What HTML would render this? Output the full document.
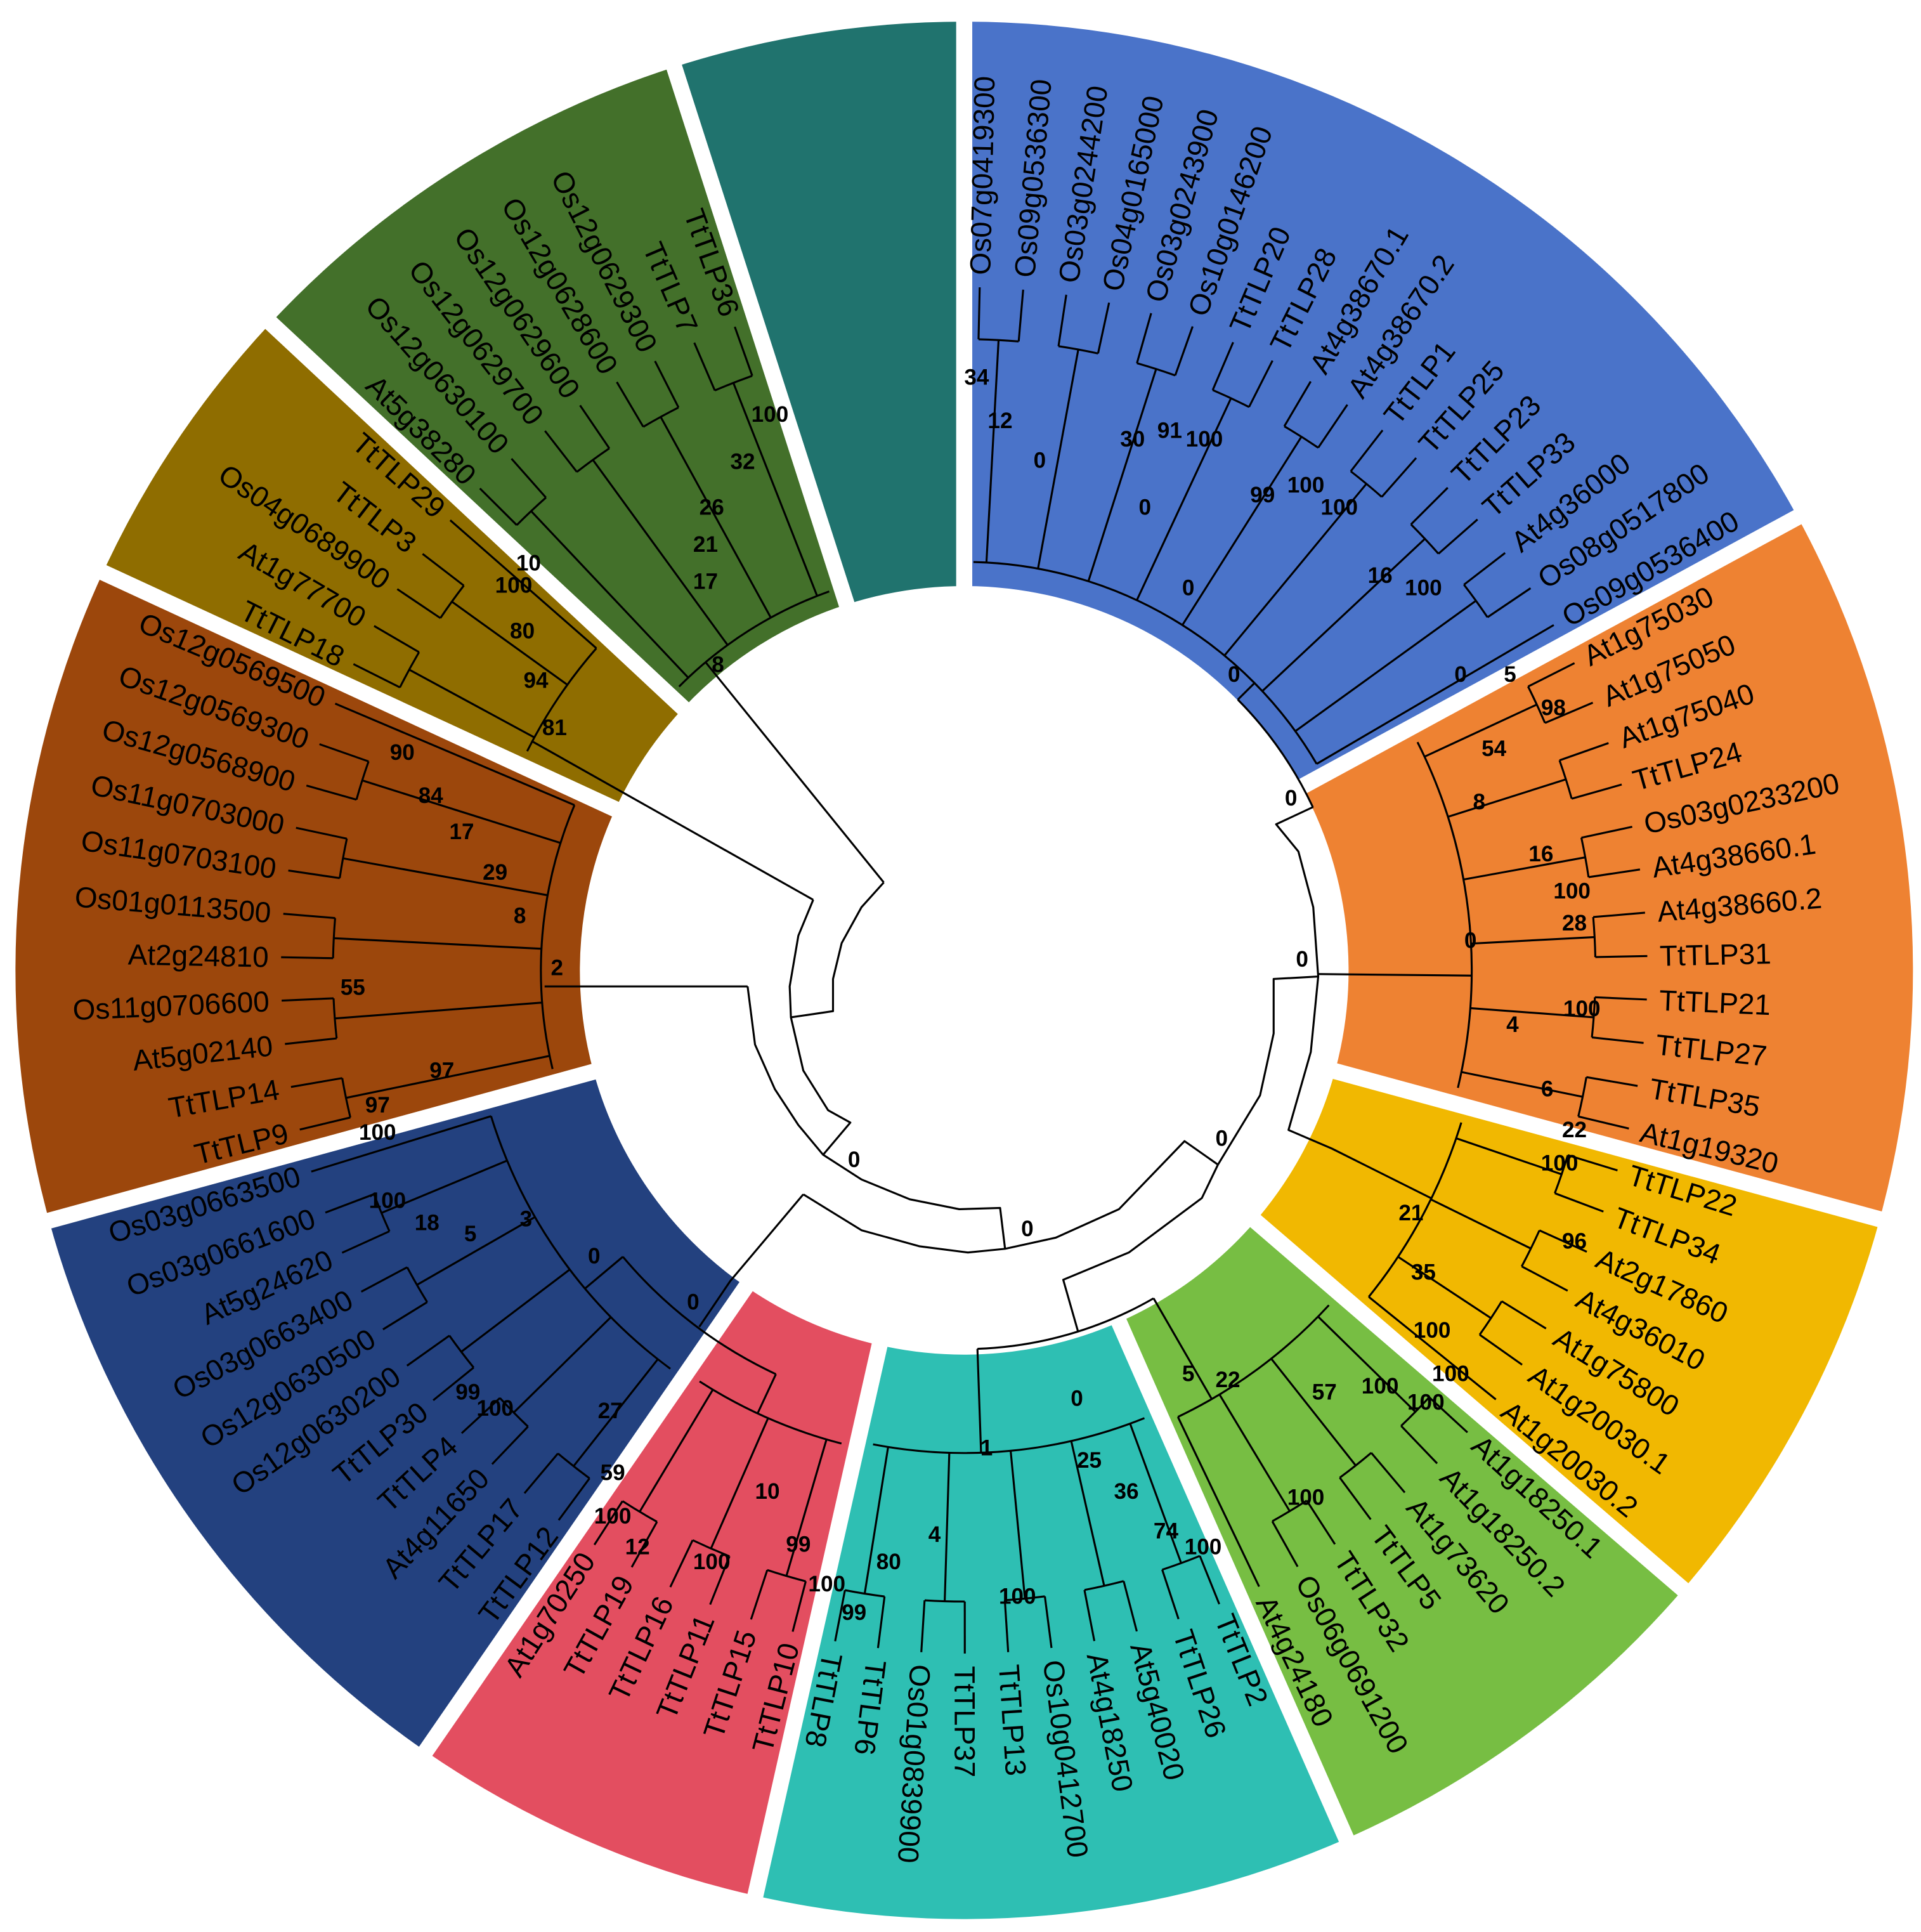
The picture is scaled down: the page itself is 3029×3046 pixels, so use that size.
<!DOCTYPE html>
<html><head><meta charset="utf-8"><style>
html,body{margin:0;padding:0;background:#fff}
svg{display:block}
.l{stroke:#000;stroke-width:1.6;fill:none}
.lb{font-family:"Liberation Sans",Arial,sans-serif;font-size:23.5px;fill:#000;dominant-baseline:central}
.le{text-anchor:end}
.n{font-family:"Liberation Sans",Arial,sans-serif;font-size:18px;font-weight:bold;fill:#000;text-anchor:middle;dominant-baseline:central}
</style></head><body>
<svg xmlns="http://www.w3.org/2000/svg" width="3029" height="3046" viewBox="0 0 1552 1561" preserveAspectRatio="none">
<rect width="1552" height="1561" fill="#fff"/>
<g transform="translate(779 784)">
<g fill="none" stroke-width="456">
<circle r="538.5" stroke="#4A73C9" stroke-dasharray="577.6 4000" transform="rotate(-90)"/>
<circle r="538.5" stroke="#EE8232" stroke-dasharray="411.2 4000" transform="rotate(-28.54)"/>
<circle r="538.5" stroke="#F1B801" stroke-dasharray="239.9 4000" transform="rotate(15.21)"/>
<circle r="538.5" stroke="#77BE43" stroke-dasharray="239.9 4000" transform="rotate(40.73)"/>
<circle r="538.5" stroke="#2EBFB3" stroke-dasharray="342.8 4000" transform="rotate(66.25)"/>
<circle r="538.5" stroke="#E34E60" stroke-dasharray="205.5 4000" transform="rotate(102.72)"/>
<circle r="538.5" stroke="#23417F" stroke-dasharray="377.0 4000" transform="rotate(124.59)"/>
<circle r="538.5" stroke="#9C470C" stroke-dasharray="376.9 4000" transform="rotate(164.70)"/>
<circle r="538.5" stroke="#8F6D00" stroke-dasharray="171.3 4000" transform="rotate(204.80)"/>
<circle r="538.5" stroke="#43702A" stroke-dasharray="274.2 4000" transform="rotate(223.03)"/>
<circle r="538.5" stroke="#20736E" stroke-dasharray="167.3 4000" transform="rotate(252.2)"/>
</g>
<g stroke="#fff" stroke-width="13">
<line x1="290" x2="800" transform="rotate(-90)"/>
<line x1="290" x2="800" transform="rotate(-28.54)"/>
<line x1="290" x2="800" transform="rotate(15.21)"/>
<line x1="290" x2="800" transform="rotate(40.73)"/>
<line x1="290" x2="800" transform="rotate(66.25)"/>
<line x1="290" x2="800" transform="rotate(102.72)"/>
<line x1="290" x2="800" transform="rotate(124.59)"/>
<line x1="290" x2="800" transform="rotate(164.70)"/>
<line x1="290" x2="800" transform="rotate(204.80)"/>
<line x1="290" x2="800" transform="rotate(223.03)"/>
<line x1="290" x2="800" transform="rotate(252.2)"/>
</g>
<g class="l">
<circle r="330" stroke-dasharray="336.0 4000" transform="rotate(-88.7)"/>
<circle r="311" stroke-dasharray="106.4 4000" transform="rotate(-44.7)"/>
<line x1="311" x2="330" transform="rotate(-44.7)"/>
<circle r="410" stroke-dasharray="287.0 4000" transform="rotate(-26.72)"/>
<line x1="286" x2="410" transform="rotate(0.6)"/>
<circle r="420" stroke-dasharray="160.4 4000" transform="rotate(17.03)"/>
<circle r="306" stroke-dasharray="149.5 4000" transform="rotate(60)"/>
<line x1="306" x2="400" transform="rotate(60)"/>
<line x1="306" x2="390" transform="rotate(88)"/>
<circle r="400" stroke-dasharray="152.7 4000" transform="rotate(42.56)"/>
<circle r="390" stroke-dasharray="223.3 4000" transform="rotate(68.08)"/>
<circle r="360" stroke-dasharray="157.1 4000" transform="rotate(115)"/>
<line x1="360" x2="395" transform="rotate(115)"/>
<line x1="360" x2="400" transform="rotate(140)"/>
<circle r="395" stroke-dasharray="125.7 4000" transform="rotate(104.54)"/>
<circle r="400" stroke-dasharray="254.6 4000" transform="rotate(126.41)"/>
<circle r="342" stroke-dasharray="217.6 4000" transform="rotate(166.52)"/>
<circle r="395" stroke-dasharray="100.5 4000" transform="rotate(206.63)"/>
<circle r="325" stroke-dasharray="144.8 4000" transform="rotate(224.86)"/>
</g>
<g class="l" stroke-dasharray="32.45 4000">
<circle r="510" transform="rotate(-88.7)"/><circle r="510" transform="rotate(-81.41)"/><circle r="510" transform="rotate(-74.12)"/><circle r="510" transform="rotate(-66.82)"/><circle r="510" transform="rotate(-59.53)"/><circle r="510" transform="rotate(-52.24)"/><circle r="510" transform="rotate(-44.95)"/><circle r="510" transform="rotate(-37.66)"/>
<circle r="510" transform="rotate(-26.72)"/><circle r="510" transform="rotate(-19.43)"/><circle r="510" transform="rotate(-12.13)"/><circle r="510" transform="rotate(-4.84)"/><circle r="510" transform="rotate(2.45)"/><circle r="510" transform="rotate(9.74)"/>
<circle r="510" transform="rotate(17.03)"/><circle r="510" transform="rotate(24.33)"/><circle r="510" transform="rotate(31.62)"/>
<circle r="510" transform="rotate(42.56)"/><circle r="510" transform="rotate(49.85)"/><circle r="510" transform="rotate(57.14)"/>
<circle r="510" transform="rotate(68.08)"/><circle r="510" transform="rotate(75.37)"/><circle r="510" transform="rotate(82.66)"/><circle r="510" transform="rotate(89.95)"/><circle r="510" transform="rotate(97.25)"/>
<circle r="510" transform="rotate(104.54)"/><circle r="510" transform="rotate(111.83)"/><circle r="510" transform="rotate(119.12)"/>
<circle r="510" transform="rotate(126.41)"/><circle r="510" transform="rotate(133.71)"/><circle r="510" transform="rotate(141.00)"/><circle r="510" transform="rotate(148.29)"/><circle r="510" transform="rotate(155.58)"/>
<circle r="510" transform="rotate(166.52)"/><circle r="510" transform="rotate(173.81)"/><circle r="510" transform="rotate(181.10)"/><circle r="510" transform="rotate(188.40)"/><circle r="510" transform="rotate(195.69)"/>
<circle r="510" transform="rotate(206.63)"/><circle r="510" transform="rotate(213.92)"/>
<circle r="510" transform="rotate(224.86)"/><circle r="510" transform="rotate(232.15)"/><circle r="510" transform="rotate(239.44)"/><circle r="510" transform="rotate(246.73)"/>
</g>
<g class="l">
<line x1="330" x2="510" transform="rotate(-86.88)"/><line x1="330" x2="510" transform="rotate(-79.59)"/><line x1="330" x2="510" transform="rotate(-72.30)"/><line x1="330" x2="510" transform="rotate(-65.00)"/><line x1="330" x2="510" transform="rotate(-57.71)"/><line x1="330" x2="510" transform="rotate(-50.42)"/><line x1="330" x2="510" transform="rotate(-43.13)"/><line x1="330" x2="510" transform="rotate(-35.84)"/><line x1="330" x2="552" transform="rotate(-30.36)"/>
<line x1="410" x2="510" transform="rotate(-24.90)"/><line x1="410" x2="510" transform="rotate(-17.61)"/><line x1="410" x2="510" transform="rotate(-10.31)"/><line x1="410" x2="510" transform="rotate(-3.02)"/><line x1="410" x2="510" transform="rotate(4.27)"/><line x1="410" x2="510" transform="rotate(11.56)"/>
<line x1="420" x2="510" transform="rotate(18.85)"/><line x1="420" x2="510" transform="rotate(26.15)"/><line x1="420" x2="510" transform="rotate(33.44)"/><line x1="420" x2="552" transform="rotate(38.91)"/>
<line x1="400" x2="510" transform="rotate(44.38)"/><line x1="400" x2="510" transform="rotate(51.67)"/><line x1="400" x2="510" transform="rotate(58.96)"/><line x1="400" x2="552" transform="rotate(64.43)"/>
<line x1="390" x2="510" transform="rotate(69.90)"/><line x1="390" x2="510" transform="rotate(77.19)"/><line x1="390" x2="510" transform="rotate(84.48)"/><line x1="390" x2="510" transform="rotate(91.77)"/><line x1="390" x2="510" transform="rotate(99.07)"/>
<line x1="395" x2="510" transform="rotate(106.36)"/><line x1="395" x2="510" transform="rotate(113.65)"/><line x1="395" x2="510" transform="rotate(120.94)"/>
<line x1="400" x2="510" transform="rotate(128.23)"/><line x1="400" x2="510" transform="rotate(135.53)"/><line x1="400" x2="510" transform="rotate(142.82)"/><line x1="400" x2="510" transform="rotate(150.11)"/><line x1="400" x2="510" transform="rotate(157.40)"/><line x1="400" x2="552" transform="rotate(162.87)"/>
<line x1="342" x2="510" transform="rotate(168.34)"/><line x1="342" x2="510" transform="rotate(175.63)"/><line x1="342" x2="510" transform="rotate(182.92)"/><line x1="342" x2="510" transform="rotate(190.22)"/><line x1="342" x2="510" transform="rotate(197.51)"/><line x1="342" x2="552" transform="rotate(202.98)"/>
<line x1="395" x2="510" transform="rotate(208.45)"/><line x1="395" x2="510" transform="rotate(215.74)"/><line x1="395" x2="552" transform="rotate(221.21)"/>
<line x1="325" x2="510" transform="rotate(226.68)"/><line x1="325" x2="510" transform="rotate(233.97)"/><line x1="325" x2="510" transform="rotate(241.26)"/><line x1="325" x2="510" transform="rotate(248.55)"/>
</g>
<g class="l">
<line x1="510" x2="552" transform="rotate(-88.7)"/><line x1="510" x2="552" transform="rotate(-85.05)"/><line x1="510" x2="552" transform="rotate(-81.41)"/><line x1="510" x2="552" transform="rotate(-77.76)"/><line x1="510" x2="552" transform="rotate(-74.12)"/><line x1="510" x2="552" transform="rotate(-70.47)"/><line x1="510" x2="552" transform="rotate(-66.82)"/><line x1="510" x2="552" transform="rotate(-63.18)"/><line x1="510" x2="552" transform="rotate(-59.53)"/><line x1="510" x2="552" transform="rotate(-55.89)"/><line x1="510" x2="552" transform="rotate(-52.24)"/><line x1="510" x2="552" transform="rotate(-48.59)"/><line x1="510" x2="552" transform="rotate(-44.95)"/><line x1="510" x2="552" transform="rotate(-41.30)"/><line x1="510" x2="552" transform="rotate(-37.66)"/><line x1="510" x2="552" transform="rotate(-34.01)"/>
<line x1="510" x2="552" transform="rotate(-26.72)"/><line x1="510" x2="552" transform="rotate(-23.07)"/><line x1="510" x2="552" transform="rotate(-19.43)"/><line x1="510" x2="552" transform="rotate(-15.78)"/><line x1="510" x2="552" transform="rotate(-12.13)"/><line x1="510" x2="552" transform="rotate(-8.49)"/><line x1="510" x2="552" transform="rotate(-4.84)"/><line x1="510" x2="552" transform="rotate(-1.20)"/><line x1="510" x2="552" transform="rotate(2.45)"/><line x1="510" x2="552" transform="rotate(6.10)"/><line x1="510" x2="552" transform="rotate(9.74)"/><line x1="510" x2="552" transform="rotate(13.39)"/>
<line x1="510" x2="552" transform="rotate(17.03)"/><line x1="510" x2="552" transform="rotate(20.68)"/><line x1="510" x2="552" transform="rotate(24.33)"/><line x1="510" x2="552" transform="rotate(27.97)"/><line x1="510" x2="552" transform="rotate(31.62)"/><line x1="510" x2="552" transform="rotate(35.26)"/>
<line x1="510" x2="552" transform="rotate(42.56)"/><line x1="510" x2="552" transform="rotate(46.20)"/><line x1="510" x2="552" transform="rotate(49.85)"/><line x1="510" x2="552" transform="rotate(53.49)"/><line x1="510" x2="552" transform="rotate(57.14)"/><line x1="510" x2="552" transform="rotate(60.79)"/>
<line x1="510" x2="552" transform="rotate(68.08)"/><line x1="510" x2="552" transform="rotate(71.72)"/><line x1="510" x2="552" transform="rotate(75.37)"/><line x1="510" x2="552" transform="rotate(79.02)"/><line x1="510" x2="552" transform="rotate(82.66)"/><line x1="510" x2="552" transform="rotate(86.31)"/><line x1="510" x2="552" transform="rotate(89.95)"/><line x1="510" x2="552" transform="rotate(93.60)"/><line x1="510" x2="552" transform="rotate(97.25)"/><line x1="510" x2="552" transform="rotate(100.89)"/>
<line x1="510" x2="552" transform="rotate(104.54)"/><line x1="510" x2="552" transform="rotate(108.18)"/><line x1="510" x2="552" transform="rotate(111.83)"/><line x1="510" x2="552" transform="rotate(115.48)"/><line x1="510" x2="552" transform="rotate(119.12)"/><line x1="510" x2="552" transform="rotate(122.77)"/>
<line x1="510" x2="552" transform="rotate(126.41)"/><line x1="510" x2="552" transform="rotate(130.06)"/><line x1="510" x2="552" transform="rotate(133.71)"/><line x1="510" x2="552" transform="rotate(137.35)"/><line x1="510" x2="552" transform="rotate(141.00)"/><line x1="510" x2="552" transform="rotate(144.64)"/><line x1="510" x2="552" transform="rotate(148.29)"/><line x1="510" x2="552" transform="rotate(151.94)"/><line x1="510" x2="552" transform="rotate(155.58)"/><line x1="510" x2="552" transform="rotate(159.23)"/>
<line x1="510" x2="552" transform="rotate(166.52)"/><line x1="510" x2="552" transform="rotate(170.17)"/><line x1="510" x2="552" transform="rotate(173.81)"/><line x1="510" x2="552" transform="rotate(177.46)"/><line x1="510" x2="552" transform="rotate(181.10)"/><line x1="510" x2="552" transform="rotate(184.75)"/><line x1="510" x2="552" transform="rotate(188.40)"/><line x1="510" x2="552" transform="rotate(192.04)"/><line x1="510" x2="552" transform="rotate(195.69)"/><line x1="510" x2="552" transform="rotate(199.33)"/>
<line x1="510" x2="552" transform="rotate(206.63)"/><line x1="510" x2="552" transform="rotate(210.27)"/><line x1="510" x2="552" transform="rotate(213.92)"/><line x1="510" x2="552" transform="rotate(217.56)"/>
<line x1="510" x2="552" transform="rotate(224.86)"/><line x1="510" x2="552" transform="rotate(228.50)"/><line x1="510" x2="552" transform="rotate(232.15)"/><line x1="510" x2="552" transform="rotate(235.79)"/><line x1="510" x2="552" transform="rotate(239.44)"/><line x1="510" x2="552" transform="rotate(243.09)"/><line x1="510" x2="552" transform="rotate(246.73)"/><line x1="510" x2="552" transform="rotate(250.38)"/>
</g>
<g class="lb">
<text x="562" transform="rotate(-88.7)">Os07g0419300</text>
<text x="562" transform="rotate(-85.05)">Os09g0536300</text>
<text x="562" transform="rotate(-81.41)">Os03g0244200</text>
<text x="562" transform="rotate(-77.76)">Os04g0165000</text>
<text x="562" transform="rotate(-74.12)">Os03g0243900</text>
<text x="562" transform="rotate(-70.47)">Os10g0146200</text>
<text x="562" transform="rotate(-66.82)">TtTLP20</text>
<text x="562" transform="rotate(-63.18)">TtTLP28</text>
<text x="562" transform="rotate(-59.53)">At4g38670.1</text>
<text x="562" transform="rotate(-55.89)">At4g38670.2</text>
<text x="562" transform="rotate(-52.24)">TtTLP1</text>
<text x="562" transform="rotate(-48.59)">TtTLP25</text>
<text x="562" transform="rotate(-44.95)">TtTLP23</text>
<text x="562" transform="rotate(-41.30)">TtTLP33</text>
<text x="562" transform="rotate(-37.66)">At4g36000</text>
<text x="562" transform="rotate(-34.01)">Os08g0517800</text>
<text x="562" transform="rotate(-30.36)">Os09g0536400</text>
<text x="562" transform="rotate(-26.72)">At1g75030</text>
<text x="562" transform="rotate(-23.07)">At1g75050</text>
<text x="562" transform="rotate(-19.43)">At1g75040</text>
<text x="562" transform="rotate(-15.78)">TtTLP24</text>
<text x="562" transform="rotate(-12.13)">Os03g0233200</text>
<text x="562" transform="rotate(-8.49)">At4g38660.1</text>
<text x="562" transform="rotate(-4.84)">At4g38660.2</text>
<text x="562" transform="rotate(-1.20)">TtTLP31</text>
<text x="562" transform="rotate(2.45)">TtTLP21</text>
<text x="562" transform="rotate(6.10)">TtTLP27</text>
<text x="562" transform="rotate(9.74)">TtTLP35</text>
<text x="562" transform="rotate(13.39)">At1g19320</text>
<text x="562" transform="rotate(17.03)">TtTLP22</text>
<text x="562" transform="rotate(20.68)">TtTLP34</text>
<text x="562" transform="rotate(24.33)">At2g17860</text>
<text x="562" transform="rotate(27.97)">At4g36010</text>
<text x="562" transform="rotate(31.62)">At1g75800</text>
<text x="562" transform="rotate(35.26)">At1g20030.1</text>
<text x="562" transform="rotate(38.91)">At1g20030.2</text>
<text x="562" transform="rotate(42.56)">At1g18250.1</text>
<text x="562" transform="rotate(46.20)">At1g18250.2</text>
<text x="562" transform="rotate(49.85)">At1g73620</text>
<text x="562" transform="rotate(53.49)">TtTLP5</text>
<text x="562" transform="rotate(57.14)">TtTLP32</text>
<text x="562" transform="rotate(60.79)">Os06g0691200</text>
<text x="562" transform="rotate(64.43)">At4g24180</text>
<text x="562" transform="rotate(68.08)">TtTLP2</text>
<text x="562" transform="rotate(71.72)">TtTLP26</text>
<text x="562" transform="rotate(75.37)">At5g40020</text>
<text x="562" transform="rotate(79.02)">At4g18250</text>
<text x="562" transform="rotate(82.66)">Os10g0412700</text>
<text x="562" transform="rotate(86.31)">TtTLP13</text>
<text x="562" transform="rotate(89.95)">TtTLP37</text>
<text x="562" transform="rotate(93.60)">Os01g0839900</text>
<text x="562" transform="rotate(97.25)">TtTLP6</text>
<text x="562" transform="rotate(100.89)">TtTLP8</text>
</g>
<g class="lb le">
<text x="-562" transform="rotate(-75.46)">TtTLP10</text>
<text x="-562" transform="rotate(-71.82)">TtTLP15</text>
<text x="-562" transform="rotate(-68.17)">TtTLP11</text>
<text x="-562" transform="rotate(-64.52)">TtTLP16</text>
<text x="-562" transform="rotate(-60.88)">TtTLP19</text>
<text x="-562" transform="rotate(-57.23)">At1g70250</text>
<text x="-562" transform="rotate(-53.59)">TtTLP12</text>
<text x="-562" transform="rotate(-49.94)">TtTLP17</text>
<text x="-562" transform="rotate(-46.29)">At4g11650</text>
<text x="-562" transform="rotate(-42.65)">TtTLP4</text>
<text x="-562" transform="rotate(-39.00)">TtTLP30</text>
<text x="-562" transform="rotate(-35.36)">Os12g0630200</text>
<text x="-562" transform="rotate(-31.71)">Os12g0630500</text>
<text x="-562" transform="rotate(-28.06)">Os03g0663400</text>
<text x="-562" transform="rotate(-24.42)">At5g24620</text>
<text x="-562" transform="rotate(-20.77)">Os03g0661600</text>
<text x="-562" transform="rotate(-17.13)">Os03g0663500</text>
<text x="-562" transform="rotate(-13.48)">TtTLP9</text>
<text x="-562" transform="rotate(-9.83)">TtTLP14</text>
<text x="-562" transform="rotate(-6.19)">At5g02140</text>
<text x="-562" transform="rotate(-2.54)">Os11g0706600</text>
<text x="-562" transform="rotate(1.10)">At2g24810</text>
<text x="-562" transform="rotate(4.75)">Os01g0113500</text>
<text x="-562" transform="rotate(8.40)">Os11g0703100</text>
<text x="-562" transform="rotate(12.04)">Os11g0703000</text>
<text x="-562" transform="rotate(15.69)">Os12g0568900</text>
<text x="-562" transform="rotate(19.33)">Os12g0569300</text>
<text x="-562" transform="rotate(22.98)">Os12g0569500</text>
<text x="-562" transform="rotate(26.63)">TtTLP18</text>
<text x="-562" transform="rotate(30.27)">At1g77700</text>
<text x="-562" transform="rotate(33.92)">Os04g0689900</text>
<text x="-562" transform="rotate(37.56)">TtTLP3</text>
<text x="-562" transform="rotate(41.21)">TtTLP29</text>
<text x="-562" transform="rotate(44.86)">At5g38280</text>
<text x="-562" transform="rotate(48.50)">Os12g0630100</text>
<text x="-562" transform="rotate(52.15)">Os12g0629700</text>
<text x="-562" transform="rotate(55.79)">Os12g0629600</text>
<text x="-562" transform="rotate(59.44)">Os12g0628600</text>
<text x="-562" transform="rotate(63.09)">Os12g0629300</text>
<text x="-562" transform="rotate(66.73)">TtTLP7</text>
<text x="-562" transform="rotate(70.38)">TtTLP36</text>
</g>
</g>
<g class="l" stroke-linejoin="round">
<polyline points="570,535 714,713"/>
<polyline points="714,713 696,733 680,762 673,791 673,817 639,822"/>
<polyline points="430,599 657,727"/>
<polyline points="657,727 645,756 638,797 639,822 649,865 669,897 687,907 665,933"/>
<polyline points="440,797 604,797"/>
<polyline points="604,797 610,844 626,880 645,909 665,933 696,953 735,969 775,977 808,976 812,1009"/>
<polyline points="649,965 590,1035 565,1072"/>
<polyline points="649,965 696,994 743,1007 782,1012 812,1009 853,1000 904,977 957,922 984,941"/>
<polyline points="984,941 1018,885 1029,835 1029,791 1065,789"/>
<polyline points="1061,652 1031,666 1049,688 1061,733 1065,789 1059,850 1041,913 1076,928 1156,968"/>
<polyline points="984,941 971,968 912,1012 859,1034 871,1076"/>
</g>
<g class="n">
<text x="789" y="305">34</text><text x="808" y="340">12</text><text x="840" y="372">0</text><text x="915" y="355">30</text><text x="945" y="348">91</text><text x="973" y="355">100</text><text x="925" y="410">0</text><text x="1020" y="400">99</text><text x="1055" y="392">100</text><text x="1082" y="410">100</text><text x="960" y="475">0</text><text x="1115" y="465">16</text><text x="1150" y="475">100</text><text x="997" y="545">0</text><text x="1180" y="545">0</text><text x="1220" y="545">5</text><text x="1043" y="645">0</text>
<text x="1255" y="572">98</text><text x="1207" y="605">54</text><text x="1195" y="648">8</text><text x="1245" y="690">16</text><text x="1270" y="720">100</text><text x="1272" y="746">28</text><text x="1188" y="760">0</text><text x="1052" y="775">0</text><text x="1278" y="815">100</text><text x="1222" y="828">4</text><text x="1250" y="880">6</text><text x="1272" y="913">22</text>
<text x="1260" y="940">100</text><text x="1140" y="980">21</text><text x="1272" y="1003">96</text><text x="1150" y="1028">35</text><text x="1157" y="1075">100</text><text x="1172" y="1110">100</text><text x="987" y="920">0</text>
<text x="960" y="1110">5</text><text x="992" y="1115">22</text><text x="1070" y="1125">57</text><text x="1115" y="1120">100</text><text x="1152" y="1133">100</text><text x="1055" y="1210">100</text>
<text x="870" y="1130">0</text><text x="797" y="1170">1</text><text x="880" y="1180">25</text><text x="910" y="1205">36</text><text x="942" y="1237">74</text><text x="972" y="1250">100</text><text x="755" y="1240">4</text><text x="718" y="1262">80</text><text x="690" y="1303">99</text><text x="822" y="1290">100</text><text x="830" y="993">0</text><text x="690" y="937">0</text>
<text x="620" y="1205">10</text><text x="645" y="1248">99</text><text x="515" y="1250">12</text><text x="575" y="1262">100</text><text x="668" y="1280">100</text>
<text x="313" y="970">100</text><text x="345" y="988">18</text><text x="380" y="997">5</text><text x="425" y="985">3</text><text x="480" y="1015">0</text><text x="560" y="1052">0</text><text x="378" y="1125">99</text><text x="400" y="1138">100</text><text x="493" y="1140">27</text><text x="495" y="1190">59</text><text x="495" y="1225">100</text>
<text x="325" y="608">90</text><text x="348" y="643">84</text><text x="373" y="672">17</text><text x="400" y="705">29</text><text x="420" y="740">8</text><text x="285" y="798">55</text><text x="450" y="782">2</text><text x="357" y="865">97</text><text x="305" y="893">97</text><text x="305" y="915">100</text>
<text x="415" y="473">100</text><text x="422" y="510">80</text><text x="433" y="550">94</text><text x="448" y="588">81</text><text x="427" y="455">10</text>
<text x="622" y="335">100</text><text x="600" y="373">32</text><text x="575" y="410">26</text><text x="570" y="440">21</text><text x="570" y="470">17</text><text x="580" y="537">8</text>
</g>
</svg>
</body></html>
